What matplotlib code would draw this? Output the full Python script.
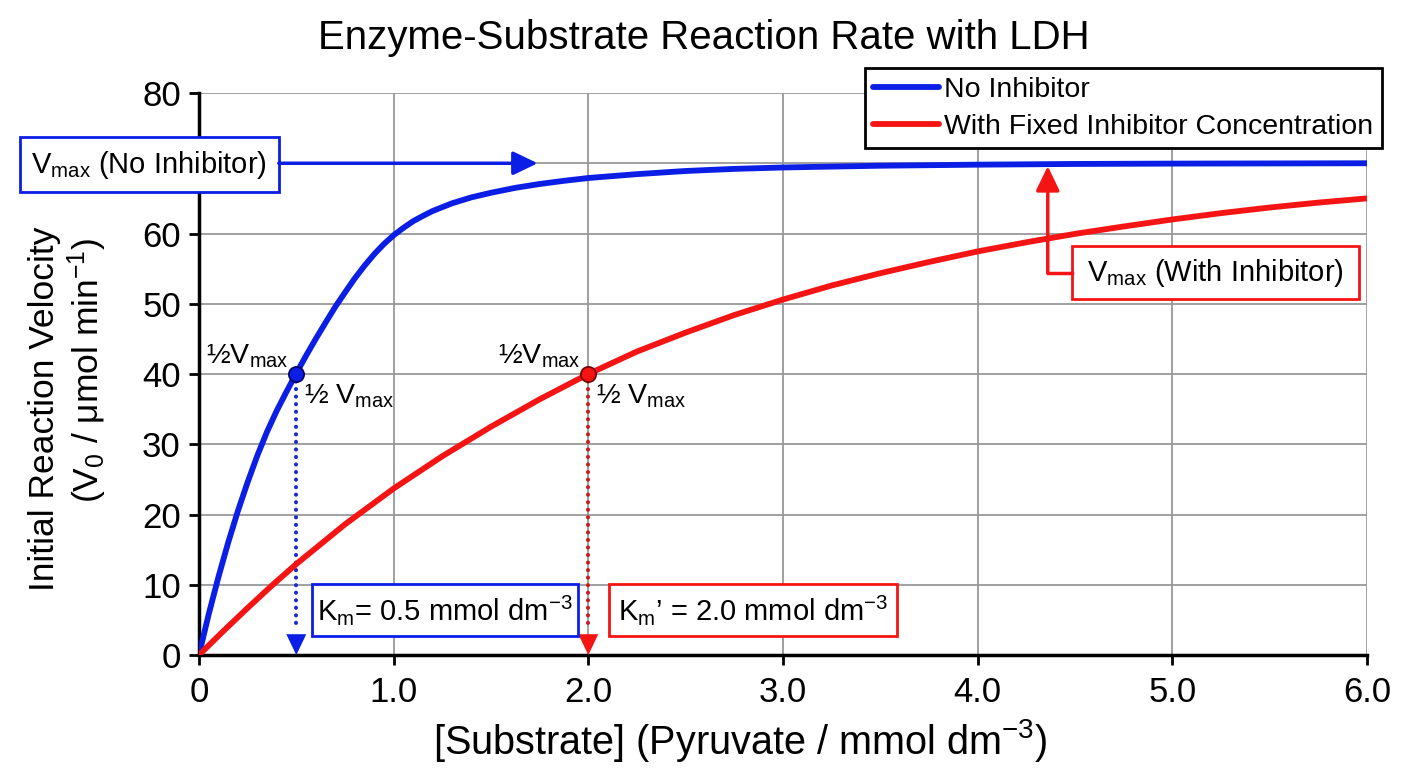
import matplotlib
matplotlib.use("Agg")
import matplotlib.pyplot as plt
from matplotlib.patches import Rectangle

plt.rcParams["font.family"] = ["Liberation Sans", "DejaVu Sans"]
plt.rcParams["mathtext.fontset"] = "custom"
plt.rcParams["mathtext.rm"] = "Liberation Sans"
plt.rcParams["mathtext.it"] = "Liberation Sans:italic"
plt.rcParams["mathtext.default"] = "regular"

# readings: [S] in mmol dm-3, V0 in umol min-1
x_no_inhib = [0, 0.05, 0.1, 0.15, 0.2, 0.25, 0.3, 0.35, 0.4, 0.45, 0.5, 0.55,
              0.6, 0.65, 0.7, 0.75, 0.8, 0.85, 0.9, 0.95, 1.0, 1.05, 1.1, 1.15,
              1.2, 1.3, 1.4, 1.5, 1.625, 1.75, 1.875, 2.0, 2.25, 2.5, 2.75,
              3.0, 3.5, 4.0, 4.5, 5.0, 6.0]
v_no_inhib = [0, 5.8, 11.1, 16.0, 20.5, 24.6, 28.4, 31.8, 34.8, 37.5, 40.1, 42.6,
              45.0, 47.3, 49.55, 51.6, 53.6, 55.4, 57.05, 58.5, 59.75, 60.8, 61.75, 62.5,
              63.2, 64.3, 65.15, 65.8, 66.5, 67.05, 67.5, 67.9, 68.45, 68.9, 69.2,
              69.4, 69.65, 69.8, 69.9, 69.95, 70.0]

x_inhib = [0, 0.125, 0.25, 0.375, 0.5, 0.75, 1.0, 1.25, 1.5, 1.75, 2.0, 2.25,
           2.5, 2.75, 3.0, 3.25, 3.5, 3.75, 4.0, 4.25, 4.5, 4.75, 5.0, 5.25,
           5.5, 5.75, 6.0]
v_inhib = [0, 3.4, 6.7, 9.9, 12.95, 18.6, 23.7, 28.3, 32.5, 36.4, 40.0, 43.2,
           45.9, 48.4, 50.6, 52.6, 54.35, 55.95, 57.45, 58.75, 59.95, 61.0, 62.0, 62.9,
           63.7, 64.4, 65.0]

vmax = 70
half_v = 40
km = 0.5
km_inhib = 2.0

x_ticks = [0, 1, 2, 3, 4, 5, 6]
x_tick_labels = ["0", "1.0", "2.0", "3.0", "4.0", "5.0", "6.0"]
y_ticks = [0, 10, 20, 30, 40, 50, 60, 70, 80]
# the 70 label sits under the Vmax callout box
y_tick_labels = ["0", "10", "20", "30", "40", "50", "60", "", "80"]

BLUE = "#0b1ee6"
RED = "#f51414"
BLUE_DOT = "#1a2ccc"
RED_DOT = "#c81e1e"


def boxed_text(ax, x0, x1, y0, y1, text, color):
    ax.add_patch(Rectangle((x0, y0), x1 - x0, y1 - y0, facecolor="white",
                           edgecolor=color, lw=2, clip_on=False, zorder=6))
    ax.text((x0 + x1) / 2, (y0 + y1) / 2, text, ha="center", va="center",
            fontsize=21, zorder=7, clip_on=False)


def arrow(ax, start, end, color, lw=2.5):
    ax.annotate("", xy=end, xytext=start, annotation_clip=False, zorder=6,
                arrowprops=dict(arrowstyle="-|>,head_length=0.75,head_width=0.36",
                                mutation_scale=20, color=color, lw=lw,
                                shrinkA=0, shrinkB=0))


fig = plt.figure(figsize=(14.08, 7.68), dpi=100)
ax = fig.add_axes([0.1413, 0.1471, 0.8296, 0.7318])

ax.plot(x_no_inhib, v_no_inhib, color=BLUE, lw=4.2, label="No Inhibitor",
        solid_joinstyle="round", solid_capstyle="round", zorder=4)
ax.plot(x_inhib, v_inhib, color=RED, lw=4.2,
        label="With Fixed Inhibitor Concentration", solid_joinstyle="round",
        solid_capstyle="round", zorder=4)

ax.set_xlim(0, 6)
ax.set_ylim(0, 80)
ax.set_xticks(x_ticks)
ax.set_xticklabels(x_tick_labels)
ax.set_yticks(y_ticks)
ax.set_yticklabels(y_tick_labels)
ax.tick_params(labelsize=25, length=7, width=2, direction="out")
ax.tick_params(axis="x", pad=8)
ax.tick_params(axis="y", pad=6)
ax.grid(True, color="#999999", lw=1.3)
ax.set_axisbelow(True)
for side in ("top", "right"):
    ax.spines[side].set_visible(False)
for side in ("left", "bottom"):
    ax.spines[side].set_linewidth(2.5)

# half-Vmax drop lines
for k, dcol, col, mec in [(km, BLUE_DOT, BLUE, "#000060"), (km_inhib, RED_DOT, RED, "#700000")]:
    ax.plot([k, k], [half_v, 3.5], color=dcol, lw=3, linestyle=(0, (0.01, 1.8)),
            dash_capstyle="round", zorder=3)
    ax.annotate("", xy=(k, 0), xytext=(k, 4), annotation_clip=False, zorder=5,
                arrowprops=dict(arrowstyle="-|>,head_length=0.75,head_width=0.36",
                                mutation_scale=20, color=col, lw=0,
                                shrinkA=0, shrinkB=0))
    ax.plot([k], [half_v], "o", ms=11, mfc=col, mec=mec, mew=1.2, zorder=5)
    ax.text(k - 0.04, half_v + 0.6, r"½V$_{max}$", ha="right", va="bottom", fontsize=20.5)
    ax.text(k + 0.04, half_v - 1.2, r"½ V$_{max}$", ha="left", va="top", fontsize=20.5)

# Vmax (no inhibitor) callout
boxed_text(ax, -0.92, 0.41, 65.9, 73.7, r"V$_{max}$ (No Inhibitor)", BLUE)
arrow(ax, (0.41, vmax), (1.74, vmax), BLUE)

# Vmax (with inhibitor) callout
boxed_text(ax, 4.485, 5.96, 50.7, 58.2, r"V$_{max}$ (With Inhibitor)", RED)
ax.plot([4.485, 4.36], [54.4, 54.4], color=RED, lw=2.5, solid_capstyle="projecting", zorder=6)
arrow(ax, (4.36, 54.4), (4.36, 69.6), RED)

# Km boxes
boxed_text(ax, 0.583, 1.947, 2.7, 10.1, r"K$_m$= 0.5 mmol dm$^{-3}$", BLUE)
boxed_text(ax, 2.106, 3.585, 2.7, 10.1, r"K$_m$’ = 2.0 mmol dm$^{-3}$", RED)

leg = ax.legend(loc="upper right", bbox_to_anchor=(1.0128, 1.0445), borderaxespad=0,
                fontsize=20.5, handlelength=2.3, handletextpad=0.2, borderpad=0.3,
                labelspacing=0.4, fancybox=False, framealpha=1, edgecolor="black")
leg.get_frame().set_linewidth(2)
leg.set_zorder(10)

fig.text(0.5, 0.95, "Enzyme-Substrate Reaction Rate with LDH", ha="center",
         va="center", fontsize=29)
fig.text(740 / 1408, 1 - 740 / 768, r"[Substrate] (Pyruvate / mmol dm$^{-3}$)",
         ha="center", va="center", fontsize=28.5)
fig.text(45 / 1408, 1 - 409 / 768, "Initial Reaction Velocity", rotation=90,
         ha="center", va="center", fontsize=25.5)
fig.text(87 / 1408, 1 - 370 / 768, r"(V$_0$ / μmol min$^{-1}$)", rotation=90,
         ha="center", va="center", fontsize=25.5)

fig.savefig("out.png", dpi=100)
